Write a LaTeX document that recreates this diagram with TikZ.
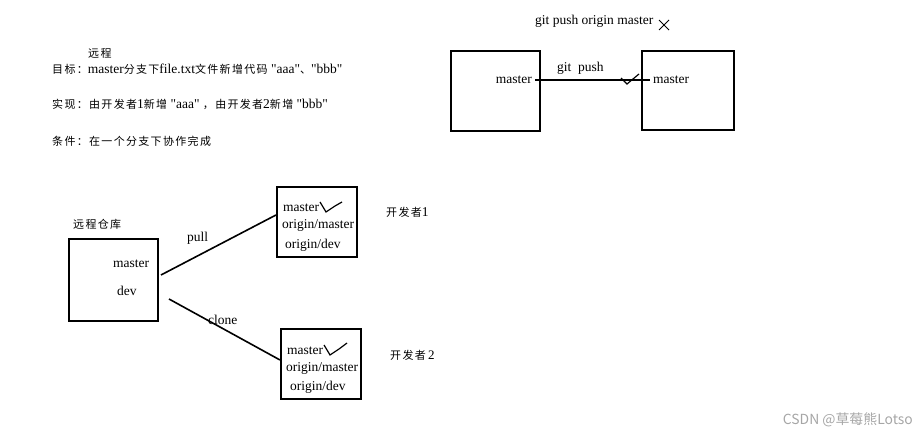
\documentclass[tikz,border=0pt]{standalone}
\usetikzlibrary{calc}
\usepackage{fontspec}
\setmainfont{Liberation Serif}[Ligatures=TeXOff]
\newfontfamily\cjkf[LetterSpace=12]{Noto Sans CJK SC}
\newfontfamily\wm{Noto Sans CJK SC}
\newcommand\zh[1]{{\cjkf\fontsize{11}{13}\selectfont #1}}
\begin{document}
\begin{tikzpicture}[x=1pt,y=-1pt,
  lbl/.style={inner sep=0pt,anchor=west,font=\fontsize{13.5}{15}\selectfont},
  cn/.style={inner sep=0pt,anchor=west,font=\fontsize{13.5}{15}\selectfont},
  repo/.style={draw,line width=1.8pt,inner sep=0pt,anchor=north west},
  wire/.style={line width=1.6pt},
  chk/.style={line width=1.2pt}]
\useasboundingbox (0,0) rectangle (919,438);
% notes
\node[cn] (t0) at (88,53) {\zh{远程}};
\node[cn] (t1) at (52,69) {\zh{目标：}master\zh{分支下}file.txt\zh{文件新增代码} "aaa"\zh{、}"bbb"};
\node[cn] (t2) at (52,104) {\zh{实现：由开发者}1\zh{新增} "aaa" \zh{，由开发者}2\zh{新增} "bbb"};
\node[cn] (t3) at (52,141) {\zh{条件：在一个分支下协作完成}};
% top right
\node[lbl] (gpom) at (535,21) {git push origin master};
\coordinate (xc) at (664,25);
\draw[line width=0.8pt] ($(xc)+(-5,-5)$) -- ($(xc)+(5,5)$) ($(xc)+(5,-5)$) -- ($(xc)+(-5,5)$);
\node[repo,minimum width=89pt,minimum height=80pt] (bl) at (450,50) {};
\node[repo,minimum width=92pt,minimum height=79pt] (br) at (641,50) {};
\node[lbl,anchor=east] (ml) at (532,80) {master};
\node[lbl] (mr) at (653,80) {master};
\node[lbl] (gp) at (557,68) {git\ \ push};
\coordinate (pa) at (535,80);
\coordinate (pb) at (650,80);
\draw[wire] (pa) -- (pb);
\draw[chk] (621,78) -- (627,84) -- (639,74);
% bottom
\node[cn] (rr) at (73,224) {\zh{远程仓库}};
\node[repo,minimum width=89pt,minimum height=82pt] (remote) at (68,238) {};
\node[lbl] (rm) at (113,264) {master};
\node[lbl] (rd) at (117,291) {dev};
\node[repo,minimum width=80pt,minimum height=70pt] (d1) at (276,186) {};
\node[lbl] (d1m) at (283,208) {master};
\node[lbl] (d1o) at (282,225) {origin/master};
\node[lbl] (d1d) at (285,245) {origin/dev};
\draw[chk] (320,202) -- (326,212) -- (335,206) -- (342,202);
\node[cn] (dev1) at (386,212) {\zh{开发者}1};
\node[repo,minimum width=80pt,minimum height=70pt] (d2) at (280,328) {};
\node[lbl] (d2m) at (287,351) {master};
\node[lbl] (d2o) at (286,368) {origin/master};
\node[lbl] (d2d) at (290,387) {origin/dev};
\draw[chk] (324,345) -- (330,355) -- (339,349) -- (347,343);
\node[cn] (dev2) at (390,355) {\zh{开发者}\,{\fontsize{13}{13}\selectfont 2}};
\coordinate (ps) at (161,275);
\coordinate (pe) at (d1.west |- 0,215);
\draw[wire] (ps) -- (pe);
\node[lbl] (pull) at (187,238) {pull};
\coordinate (cs) at (169,299);
\coordinate (ce) at (d2.west |- 0,360);
\draw[wire] (cs) -- (ce);
\node[lbl] (clone) at (208,320) {clone};
% watermark
\node[inner sep=0pt,anchor=east,text=black!35,font=\wm\fontsize{13.9}{15}\selectfont] (wmk) at (913,420) {CSDN @草莓熊Lotso};
\end{tikzpicture}
\end{document}
